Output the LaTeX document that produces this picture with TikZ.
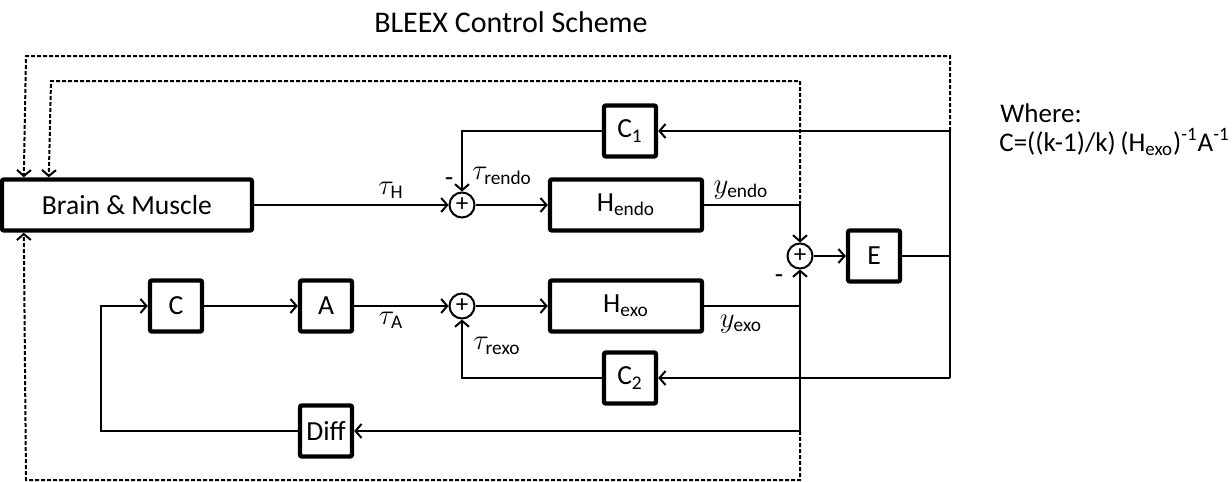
\documentclass[tikz,border=0pt]{standalone}
\usepackage{amsmath}
\usepackage{fontspec}
\setmainfont{Carlito}
\usetikzlibrary{arrows.meta}
\usetikzlibrary{positioning}
\usetikzlibrary{calc}
\tikzstyle{block} = [draw, rectangle, line width = 2.2pt, rounded corners = 1pt, minimum height = 25.5pt, minimum width = 26pt, inner sep = 0pt]
\tikzstyle{sum} = [draw, circle, line width = 1pt, minimum size = 12.5pt, inner sep = 0pt, font = \fontsize{12.5}{12.5}\selectfont]
\tikzstyle{line} = [line width = 1pt]
\tikzstyle{arrow} = [line width = 1pt, -{Straight Barb[length = 3pt, width = 7pt]}]
\tikzstyle{dots} = [dash pattern = on 2pt off 1pt]

\begin{document}
\begin{tikzpicture}[x = 0.5pt, y = -0.5pt, font = \fontsize{13.8}{16}\selectfont]

	\useasboundingbox (0,0) rectangle (1232,482);

	% title and note
	\node[font = \fontsize{15}{17}\selectfont] (title) at (511,22) {BLEEX Control Scheme};
	\node[anchor = west, inner sep = 0pt, font = \fontsize{13.5}{15}\selectfont] (where) at (1000,113) {Where:};
	\node[anchor = west, inner sep = 0pt, font = \fontsize{13.5}{15}\selectfont] (formula) at (999,142) {C=((k-1)/k)\,(H\textsubscript{exo})\textsuperscript{-1}A\textsuperscript{-1}};

	% human loop
	\node[block, minimum width = 125pt] (brain) at (127,205) {Brain \& Muscle};
	\node[sum] (sumendo) at (462,205) {+};
	\node[block, minimum width = 76pt] (hendo) at (626,205) {H\textsubscript{endo}};
	\node[block] (cone) at (630,131) {C\textsubscript{1}};

	% exoskeleton loop
	\node[block] (ctrl) at (176,306) {C};
	\node[block] (amp) at (326,306) {A};
	\node[sum] (sumexo) at (462,306) {+};
	\node[block, minimum width = 76pt] (hexo) at (626,306) {H\textsubscript{exo}};
	\node[block] (ctwo) at (630,378) {C\textsubscript{2}};
	\node[block] (diff) at (326,431) {Diff};

	% error
	\node[sum] (sumout) at (800,256) {+};
	\node[block] (econt) at (874,256) {E};

	% bus points
	\coordinate (bustop) at (950,131);
	\coordinate (busmid) at (950,256);
	\coordinate (busbot) at (950,378);
	\coordinate (difftap) at (800,431);
	\coordinate (loopl) at (101,431);

	% labels
	\node (tauh) at (391,190) {$\tau_{\text{H}}$};
	\node (minusendo) at (449,182) {-};
	\node (taurendo) at (502,176) {$\tau_{\text{rendo}}$};
	\node (yendo) at (741,190) {$y_{\text{endo}}$};
	\node (minusout) at (779,279) {-};
	\node (yexo) at (741,324) {$y_{\text{exo}}$};
	\node (taua) at (391,320) {$\tau_{\text{A}}$};
	\node (taurexo) at (497,346) {$\tau_{\text{rexo}}$};

	% Connect all nodes defined above
	\draw[arrow] (brain.east) -- (sumendo.west);
	\draw[arrow] (sumendo.east) -- (hendo.west);
	\draw[arrow] (hendo.east) -| (sumout.north);
	\draw[arrow] (hexo.east) -| (sumout.south);
	\draw[arrow] (sumout.east) -- (econt.west);
	\draw[line] (econt.east) -- (busmid);
	\draw[line] (bustop) -- (busbot);
	\draw[arrow] (bustop) -- (cone.east);
	\draw[arrow] (busbot) -- (ctwo.east);
	\draw[arrow] (cone.west) -| (sumendo.north);
	\draw[arrow] (ctwo.west) -| (sumexo.south);
	\draw[arrow] (ctrl.east) -- (amp.west);
	\draw[arrow] (amp.east) -- (sumexo.west);
	\draw[arrow] (sumexo.east) -- (hexo.west);
	\draw[line] (hexo.east -| sumout.south) -- (difftap);
	\draw[arrow] (difftap) -- (diff.east);
	\draw[arrow] (diff.west) -- (loopl) |- (ctrl.west);

	% dotted paths back to the brain
	\draw[arrow, dots] (bustop) -- (950,56) -- (26,56) -- ($(brain.north west) + (24,0)$);
	\draw[arrow, dots] (hendo.east -| sumout.north) -- (800,81) -- (51,81) -- ($(brain.north west) + (49,0)$);
	\draw[arrow, dots] (difftap) -- (800,480) -- (26,480) -- ($(brain.south west) + (24,0)$);

\end{tikzpicture}
\end{document}
